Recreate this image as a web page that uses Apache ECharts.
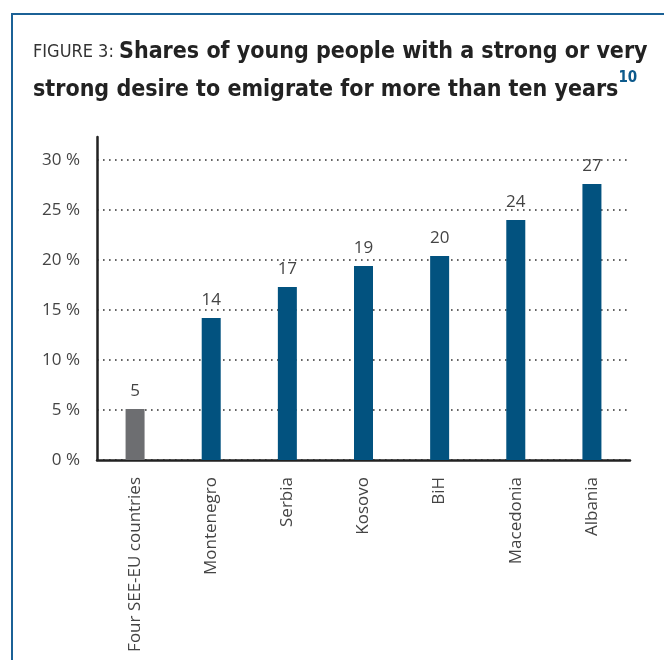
<!DOCTYPE html>
<html><head><meta charset="utf-8">
<script src="https://cdn.jsdelivr.net/npm/echarts@6/dist/echarts.min.js"></script>
<style>html,body{margin:0;padding:0;background:#fff}#c{width:664px;height:660px}</style>
</head><body><div id="c"></div>
<script>
const categories = ['Four SEE-EU countries','Montenegro','Serbia','Kosovo','BiH','Macedonia','Albania'];
const values = [5.1, 14.2, 17.3, 19.4, 20.4, 24.0, 27.6];
const labels = ['5','14','17','19','20','24','27'];
const barColors = ['#6d6e71','#02527f','#02527f','#02527f','#02527f','#02527f','#02527f'];
const yTicks = [0,5,10,15,20,25,30];

const TF = '"DejaVu Sans Condensed", "Roboto", sans-serif';
const chart = echarts.init(document.getElementById('c'), null, {renderer:'canvas'});
chart.setOption({
  animation:false,
  backgroundColor:'#fff',
  title:{
    left:33, top:33, padding:0,
    text:'{a|FIGURE 3: }{b|Shares of young people with a strong or very}\n{b|strong desire to emigrate for more than ten years}{s|10}',
    textStyle:{
      fontWeight:'normal',
      rich:{
        a:{fontFamily:TF,fontWeight:'normal',fontSize:18,color:'#333',lineHeight:38},
        b:{fontFamily:TF,fontWeight:'bold',fontSize:23,color:'#222',lineHeight:38},
        s:{fontFamily:TF,fontWeight:'bold',fontSize:15,color:'#0d5a8c',verticalAlign:'top',lineHeight:16}
      }
    }
  },
  graphic:[{
    type:'polyline', shape:{points:[[12,660],[12,14],[664,14]]},
    style:{stroke:'#1b6196',lineWidth:2,fill:null}, silent:true
  }],
  grid:{left:97,right:34,top:137,bottom:200},
  xAxis:{
    type:'category', data:categories,
    axisLine:{lineStyle:{color:'#222',width:2.5}},
    axisTick:{show:false},
    axisLabel:{rotate:90,margin:17,fontFamily:'Open Sans',fontSize:17,color:'#444'}
  },
  yAxis:{
    type:'value', min:0, max:32.3, interval:5,
    axisLine:{show:true,lineStyle:{color:'#222',width:2.5}},
    axisTick:{show:false},
    axisLabel:{showMaxLabel:false,margin:17,fontFamily:'Open Sans',fontSize:17,color:'#444',
      formatter:v=> yTicks.includes(v)? v+' %':''},
    splitLine:{show:true,showMaxLine:false,lineStyle:{color:'#333',width:1.6,type:[1.6,4.4]}}
  },
  series:[{
    type:'bar', barWidth:19,
    data:values.map((v,i)=>({value:v,itemStyle:{color:barColors[i]}})),
    label:{show:true,position:'top',distance:9,fontFamily:'Open Sans',fontSize:17,color:'#444',
      formatter:p=>labels[p.dataIndex]}
  }]
});
</script></body></html>
